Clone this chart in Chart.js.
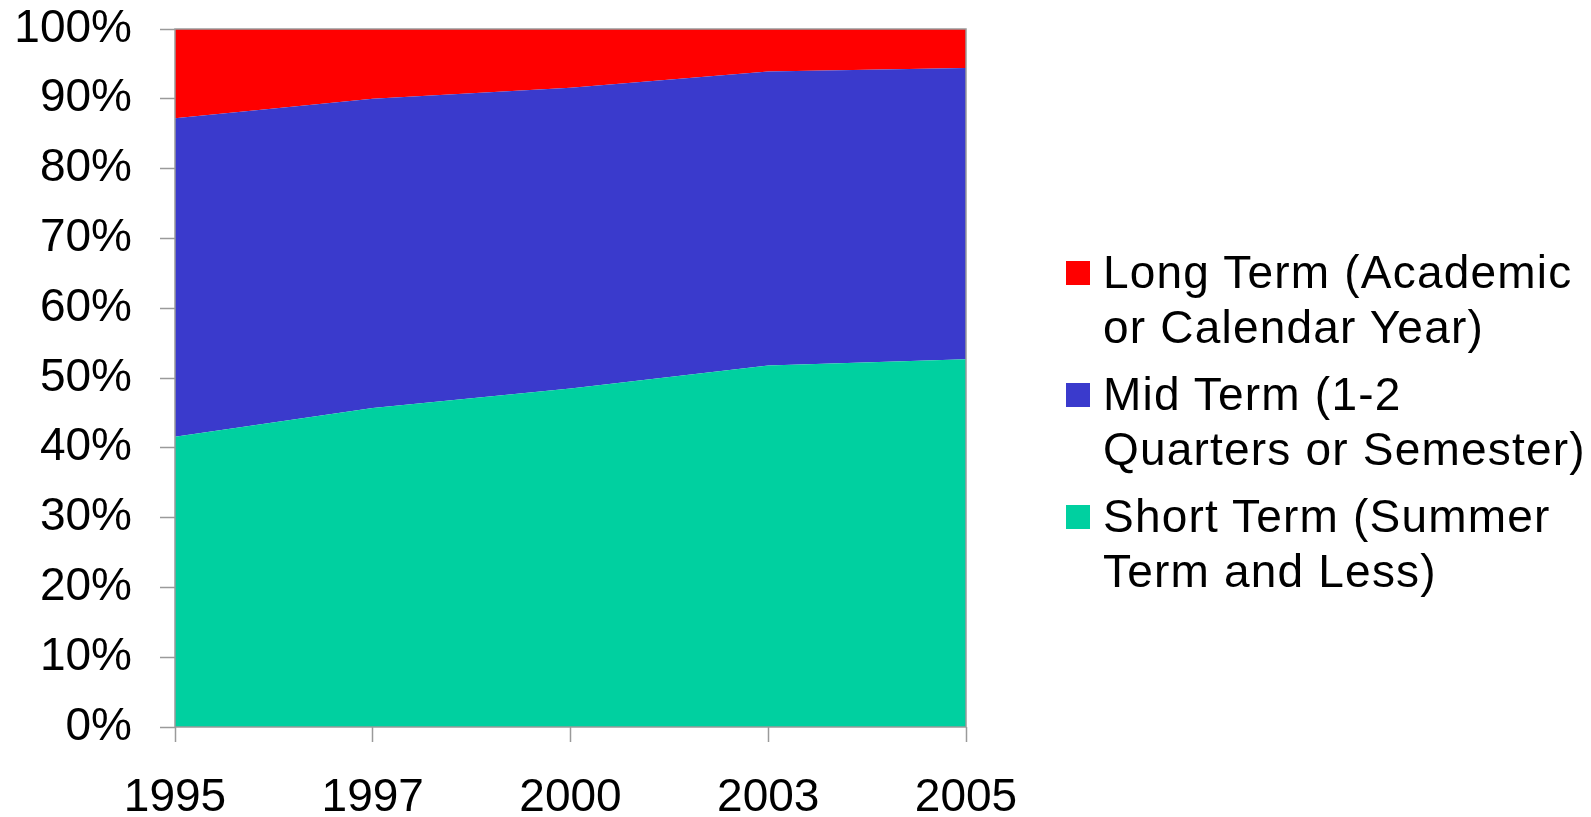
<!DOCTYPE html>
<html>
<head>
<meta charset="utf-8">
<script src="https://cdn.jsdelivr.net/npm/chart.js@4/dist/chart.umd.min.js"></script>
<style>
  html, body { margin: 0; padding: 0; background: #ffffff; }
  #wrap { position: relative; width: 1591px; height: 817px; }
  canvas { position: absolute; left: 0; top: 0; }
  #legend { position: absolute; left: 1066px; top: 245px; font-family: "Liberation Sans", Arial, sans-serif; font-size: 46px; color: #000; letter-spacing: 1.2px; }
  .item { position: relative; padding-left: 37px; line-height: 54.5px; margin-bottom: 13px; white-space: nowrap; }
  .box { position: absolute; left: 0; top: 16px; width: 24px; height: 24px; }
</style>
</head>
<body>
<div id="wrap">
  <canvas id="c" width="1591" height="817"></canvas>
  <div id="legend"></div>
</div>
<script>
// ---- data ----
const years = ["1995", "1997", "2000", "2003", "2005"];
const shortTerm = [41.6, 45.7, 48.5, 51.8, 52.7];
const midTerm   = [45.6, 44.3, 43.1, 42.1, 41.7];
const longTerm  = [12.8, 10.0, 8.4, 6.1, 5.6];
const seriesLabels = [
  ["Short Term (Summer", "Term and Less)"],
  ["Mid Term (1-2", "Quarters or Semester)"],
  ["Long Term (Academic", "or Calendar Year)"]
];
const seriesColors = ["#00D0A0", "#3A3ACC", "#FF0000"];
const yTicks = [0, 10, 20, 30, 40, 50, 60, 70, 80, 90, 100];

const seriesValues = [shortTerm, midTerm, longTerm];
const datasets = seriesValues.map((vals, i) => ({
  label: seriesLabels[i].join(" "),
  data: vals,
  backgroundColor: seriesColors[i],
  borderColor: seriesColors[i],
  borderWidth: 0,
  pointRadius: 0,
  pointHoverRadius: 0,
  tension: 0,
  fill: i === 0 ? 'origin' : '-1'
}));

const axisGray = '#9a9a9a';
const frame = {
  id: 'frame',
  afterDatasetsDraw(chart) {
    const a = chart.chartArea, ctx = chart.ctx;
    ctx.save();
    ctx.strokeStyle = axisGray;
    ctx.lineWidth = 1.5;
    ctx.strokeRect(a.left, a.top, a.right - a.left, a.bottom - a.top);
    ctx.restore();
  }
};

const font = { family: '"Liberation Sans", Arial, sans-serif', size: 46 };

new Chart(document.getElementById('c'), {
  type: 'line',
  data: { labels: years, datasets },
  options: {
    responsive: false,
    devicePixelRatio: 1,
    animation: false,
    layout: { padding: { left: 0, top: 29, right: 625, bottom: 0 } },
    plugins: { legend: { display: false }, tooltip: { enabled: false } },
    scales: {
      x: {
        offset: false,
        border: { display: false },
        grid: { drawOnChartArea: false, drawTicks: true, tickLength: 15, tickColor: axisGray, tickWidth: 1.5 },
        ticks: { color: '#000', font, padding: 29, maxRotation: 0, autoSkip: false },
        afterFit(s) { s.height = 90; s.paddingLeft = 0; s.paddingRight = 0; }
      },
      y: {
        stacked: true,
        min: 0, max: 100,
        border: { display: false },
        grid: { drawOnChartArea: false, drawTicks: true, tickLength: 15, tickColor: axisGray, tickWidth: 1.5 },
        afterBuildTicks(s) { s.ticks = yTicks.map(v => ({ value: v })); },
        ticks: { color: '#000', font, padding: 28, callback: v => v + '%' },
        afterFit(s) { s.width = 175; s.paddingTop = 0; s.paddingBottom = 0; }
      }
    }
  },
  plugins: [frame]
});

// legend (reverse order, like the reference)
const legend = document.getElementById('legend');
for (let i = seriesLabels.length - 1; i >= 0; i--) {
  const item = document.createElement('div');
  item.className = 'item';
  const box = document.createElement('span');
  box.className = 'box';
  box.style.background = seriesColors[i];
  item.appendChild(box);
  seriesLabels[i].forEach((line, k) => {
    if (k > 0) item.appendChild(document.createElement('br'));
    item.appendChild(document.createTextNode(line));
  });
  legend.appendChild(item);
}
</script>
</body>
</html>
